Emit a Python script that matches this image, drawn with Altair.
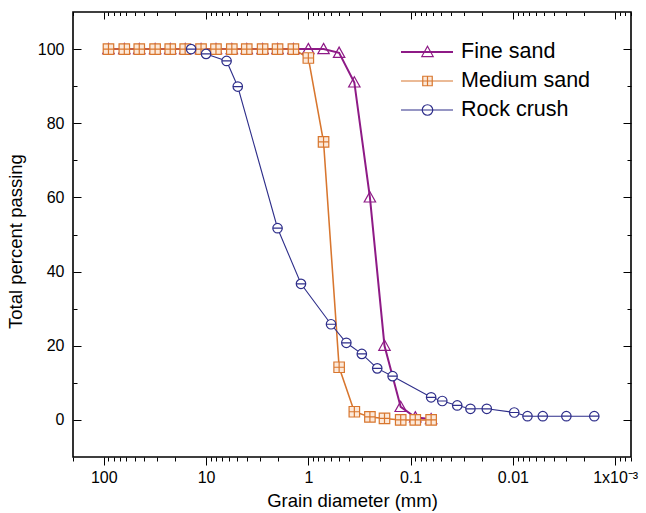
import altair as alt
import pandas as pd

# ---------------- data ----------------
series = ["Fine sand", "Medium sand", "Rock crush"]
colors = ["#8E1A86", "#D8762E", "#2E2E8A"]
fills = ["transparent", "#FCE9DA", "white"]
line_widths = [2.0, 1.1, 1.1]

sieve_mm = [90, 63, 45, 31.5, 22.4, 16, 11.2, 8, 5.6, 4, 2.8, 2, 1.4, 1,
            0.71, 0.5, 0.355, 0.25, 0.18, 0.125, 0.09, 0.063]
fine_pass = [100, 100, 100, 100, 100, 100, 100, 100, 100, 100, 100, 100, 100, 100,
             100, 99, 91, 60, 20, 3.5, 0.7, 0.2]
medium_pass = [100, 100, 100, 100, 100, 100, 100, 100, 100, 100, 100, 100, 100, 97.6,
               75, 14.2, 2.2, 0.8, 0.4, 0, 0, 0]
rock_mm = [14, 10, 6.3, 4.9, 2.0, 1.18, 0.6, 0.425, 0.3, 0.212, 0.15,
           0.063, 0.049, 0.035, 0.026, 0.018, 0.0097, 0.0072, 0.0051, 0.003, 0.0016]
rock_pass = [100, 98.7, 96.8, 89.9, 51.7, 36.7, 25.8, 20.8, 17.8, 13.9, 11.8,
             6.1, 5.1, 3.9, 3.0, 3.0, 2.0, 1.0, 1.0, 1.0, 1.0]

x_major_values = [100, 10, 1, 0.1, 0.01, 0.001]
x_major_labels = ["100", "10", "1", "0.1", "0.01", "1x10\u207b\u00b3"]
y_major_values = [0, 20, 40, 60, 80, 100]
y_minor_values = [10, 30, 50, 70, 90]

x_title = "Grain diameter (mm)"
y_title = "Total percent passing"

# ---------------- table ----------------
rows = []
for d, p in zip(sieve_mm, fine_pass):
    rows.append({"series": series[0], "d": d, "p": p})
for d, p in zip(sieve_mm, medium_pass):
    rows.append({"series": series[1], "d": d, "p": p})
for d, p in zip(rock_mm, rock_pass):
    rows.append({"series": series[2], "d": d, "p": p})
df = pd.DataFrame(rows)

# marker shapes
TRI = "M0,-1L1,0.8L-1,0.8Z"
SQ = "M-1,-1L1,-1L1,1L-1,1Z M0,-1L0,1 M-1,0L1,0"
CIRC = "M-1,0A1,1,0,1,1,1,0A1,1,0,1,1,-1,0Z M-1,0L1,0"
shapes = [TRI, SQ, CIRC]
sizes = [130, 90, 110]

W, H = 558, 445
FONT = "Liberation Sans"

x_minor_values = []
for e in range(-4, 3):
    for k in range(1, 10):
        v = round(k * 10 ** e, 10)
        if 0.0007 <= v <= 200:
            x_minor_values.append(v)

xscale = alt.Scale(type="log", domain=[0.0007, 200], reverse=True, nice=False)
yscale = alt.Scale(domain=[-10, 110], nice=False, zero=False)

x_major_list = "[" + ",".join(str(v) for v in x_major_values) + "]"
x_major_test = f"indexof({x_major_list}, datum.value) >= 0"
x_label_expr = " : ".join(
    f"datum.value == {v} ? '{l}'" for v, l in zip(x_major_values, x_major_labels)
) + " : ''"

y_all = sorted(y_major_values + y_minor_values)
y_major_test = "datum.value % 20 == 0"

common_axis = dict(grid=False, domain=False, tickColor="black", tickWidth=1,
                   labelColor="black", labelFont=FONT, titleFont=FONT,
                   titleColor="black", titleFontWeight="normal")

bottom_axis = alt.Axis(orient="bottom", values=x_minor_values,
                       tickSize={"condition": {"test": x_major_test, "value": 8}, "value": 4},
                       labelExpr=x_label_expr, labelFontSize=16, labelPadding=4,
                       labelOverlap=False, labelFlush=False,
                       title=x_title, titleFontSize=18.5, titlePadding=6,
                       **common_axis)
top_axis = alt.Axis(orient="bottom", offset=-H, values=x_minor_values,
                    tickSize={"condition": {"test": x_major_test, "value": 7}, "value": 3.5},
                    labels=False, title=None, **common_axis)
left_axis = alt.Axis(orient="left", values=y_major_values, tickSize=0,
                     labelFontSize=16, labelPadding=9, labelOverlap=False,
                     title=y_title, titleFontSize=18.5, titlePadding=12, titleY=229,
                     **common_axis)
left_ticks = alt.Axis(orient="right", offset=-W, values=y_all,
                      tickSize={"condition": {"test": y_major_test, "value": 8}, "value": 4},
                      labels=False, title=None, **common_axis)
right_ticks = alt.Axis(orient="left", offset=-W, values=y_all,
                       tickSize={"condition": {"test": y_major_test, "value": 8}, "value": 4},
                       labels=False, title=None, **common_axis)

base = alt.Chart(df)

lines = base.mark_line().encode(
    x=alt.X("d:Q", scale=xscale, axis=bottom_axis),
    y=alt.Y("p:Q", scale=yscale, axis=left_axis),
    stroke=alt.Stroke("series:N", scale=alt.Scale(domain=series, range=colors), legend=None),
    strokeWidth=alt.StrokeWidth("series:N", scale=alt.Scale(domain=series, range=line_widths), legend=None),
    detail="series:N",
)

points = base.mark_point(filled=True, strokeWidth=1.2, opacity=1).encode(
    x=alt.X("d:Q", scale=xscale, axis=None),
    y=alt.Y("p:Q", scale=yscale, axis=None),
    stroke=alt.Stroke("series:N", scale=alt.Scale(domain=series, range=colors), legend=None),
    fill=alt.Fill("series:N", scale=alt.Scale(domain=series, range=fills), legend=None),
    shape=alt.Shape("series:N", scale=alt.Scale(domain=series, range=shapes), legend=None),
    size=alt.Size("series:N", scale=alt.Scale(domain=series, range=sizes), legend=None),
)

ax_top = base.mark_point(opacity=0).encode(x=alt.X("d:Q", scale=xscale, axis=top_axis))
ax_left = base.mark_point(opacity=0).encode(y=alt.Y("p:Q", scale=yscale, axis=left_ticks))
ax_right = base.mark_point(opacity=0).encode(y=alt.Y("p:Q", scale=yscale, axis=right_ticks))

# manual legend
legend_layers = []
for i, name in enumerate(series):
    ly = 40 + 29 * i
    ldf = pd.DataFrame({"s": [name]})
    legend_layers.append(
        alt.Chart(ldf).mark_rule(color=colors[i], strokeWidth=line_widths[i]).encode(
            x=alt.value(328), x2=alt.value(380), y=alt.value(ly))
    )
    legend_layers.append(
        alt.Chart(ldf).mark_point(filled=True, shape=shapes[i], size=sizes[i], stroke=colors[i],
                                  fill=fills[i], strokeWidth=1.2, opacity=1).encode(
            x=alt.value(354.5), y=alt.value(ly))
    )
    legend_layers.append(
        alt.Chart(ldf).mark_text(align="left", baseline="middle", fontSize=21.5, font=FONT,
                                 color="black").encode(
            x=alt.value(388), y=alt.value(ly), text="s:N")
    )

chart = alt.layer(lines, points, ax_top, ax_left, ax_right, *legend_layers).resolve_axis(
    x="independent", y="independent"
).properties(
    width=W, height=H,
    autosize=alt.AutoSizeParams(type="none"),
    padding={"left": 73, "top": 12, "right": 15, "bottom": 56},
    background="white",
).configure_view(stroke="black", strokeWidth=1.6)

chart.save("out.html", embed_options={"renderer": "svg", "actions": False})
